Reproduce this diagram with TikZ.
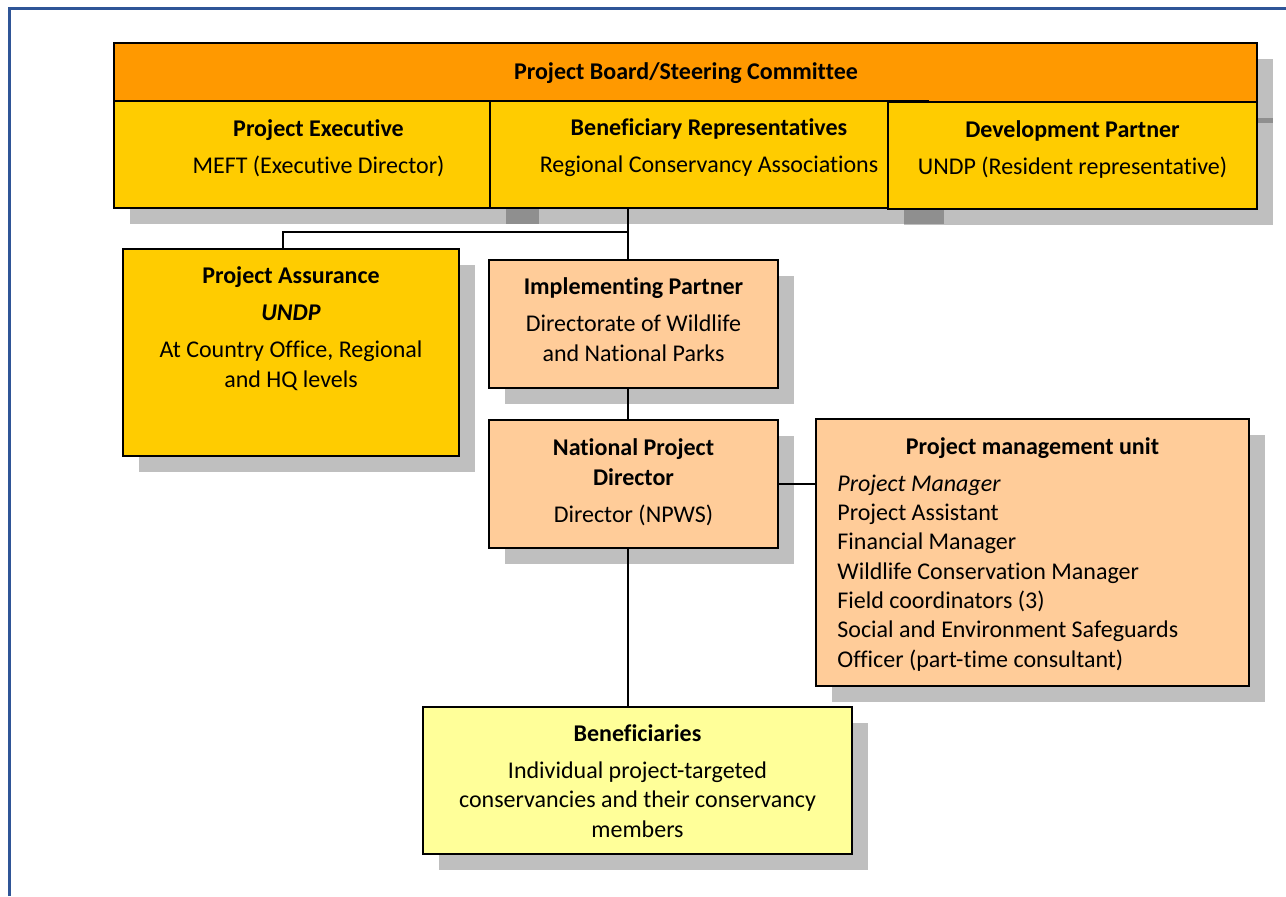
\documentclass[tikz,border=0pt]{standalone}
\usepackage{fontspec}
\setmainfont{Carlito}[Ligatures=NoCommon]
\usetikzlibrary{fit,shadows}

\definecolor{boardorange}{HTML}{FF9900}
\definecolor{boxyellow}{HTML}{FFCC00}
\definecolor{boxpeach}{HTML}{FFCC99}
\definecolor{boxlight}{HTML}{FFFF99}
\definecolor{frameblue}{HTML}{2F5597}

\tikzset{
  orgbox/.style={draw=black, line width=1pt, inner sep=0pt,
    drop shadow={shadow xshift=8pt, shadow yshift=-8pt, fill=black, opacity=0.25}},
  % base anchor sits on the last line
  boxtext/.style={align=center, inner sep=0pt, anchor=base,
    font=\fontsize{12}{14.65}\selectfont},
  link/.style={draw=black, line width=0.75pt},
}

\begin{document}
\begin{tikzpicture}[x=0.5pt,y=-0.5pt]
  \useasboundingbox (0,0) rectangle (1286,896);

  % page frame
  \draw[frameblue, line width=1.5pt] (9.5,896) -- (9.5,8.5) -- (1286,8.5);

  % board and its three members
  \node[orgbox, fill=boardorange, fit={(114,43) (1257,107)}] (board) {};
  \node[orgbox, fill=boxyellow, fit={(114,101) (523,208)}] (pe) {};
  \node[orgbox, fill=boxyellow, fit={(490,101) (928,208)}] (br) {};
  \node[orgbox, fill=boxyellow, fit={(888,102) (1257,209)}] (dp) {};

  \node[boxtext] (board-t) at (686,79) {\textbf{Project Board/Steering Committee}};
  \node[boxtext] (pe-t) at (pe.north |- 0,173) {\textbf{Project Executive}\\[3.85pt] MEFT (Executive Director)};
  \node[boxtext] (br-t) at (br.north |- 0,172) {\textbf{Beneficiary Representatives}\\[3.85pt] Regional Conservancy Associations};
  \node[boxtext] (dp-t) at (dp.north |- 0,174) {\textbf{Development Partner}\\[3.85pt] UNDP (Resident representative)};

  % assurance and implementation
  \node[orgbox, fill=boxyellow, fit={(123,249) (459,456)}] (pa) {};
  \node[orgbox, fill=boxpeach, fit={(489,260) (778,388)}] (ip) {};
  \node[orgbox, fill=boxpeach, fit={(489,420) (778,548)}] (npd) {};
  \node[orgbox, fill=boxpeach, fit={(816,419) (1249,686)}] (pmu) {};
  \node[orgbox, fill=boxlight, fit={(423,707) (852,854)}] (ben) {};

  \node[boxtext] (pa-t) at (pa.north |- 0,387) {\textbf{Project Assurance}\\[3.85pt] \textbf{\textit{UNDP}}\\[3.85pt] At Country Office, Regional\\ and HQ levels};
  \node[boxtext] (ip-t) at (ip.north |- 0,361) {\textbf{Implementing Partner}\\[3.85pt] Directorate of Wildlife\\ and National Parks};
  \node[boxtext] (npd-t) at (npd.north |- 0,522) {\textbf{National Project}\\ \textbf{Director}\\[3.85pt] Director (NPWS)};
  \node[boxtext] (pmu-t) at (pmu.north |- 0,454) {\textbf{Project management unit}};
  \node[boxtext, align=left, anchor=base west] (pmu-list) at (837,667) {\textit{Project Manager}\\ Project Assistant\\ Financial Manager\\ Wildlife Conservation Manager\\ Field coordinators (3)\\ Social and Environment Safeguards\\ Officer (part-time consultant)};
  \node[boxtext] (ben-t) at (ben.north |- 0,837) {\textbf{Beneficiaries}\\[3.85pt] Individual project-targeted\\ conservancies and their conservancy\\ members};

  % reporting lines
  \coordinate (split) at (628,232);
  \coordinate (pa-in) at (283,249);
  \coordinate (pmu-in) at (816,484);
  \draw[link] (br.south -| split) -- (ip.north -| split);
  \draw[link] (split) -| (pa-in);
  \draw[link] (ip.south -| split) -- (npd.north -| split);
  \draw[link] (npd.south -| split) -- (ben.north -| split);
  \draw[link] (npd.east |- pmu-in) -- (pmu-in);
\end{tikzpicture}
\end{document}
